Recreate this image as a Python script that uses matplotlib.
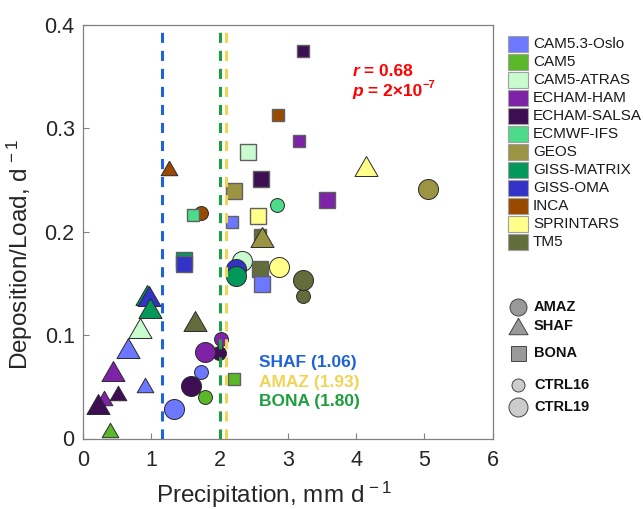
import matplotlib
matplotlib.use("Agg")
import matplotlib.pyplot as plt
from matplotlib.path import Path
from matplotlib.patches import Rectangle

plt.rcParams['font.family'] = ['Liberation Sans', 'DejaVu Sans']
plt.rcParams['mathtext.fontset'] = 'custom'
plt.rcParams['mathtext.rm'] = 'Liberation Sans'
plt.rcParams['mathtext.it'] = 'Liberation Sans:italic'
plt.rcParams['mathtext.bf'] = 'Liberation Sans:bold'

# ---------------- data ----------------
models = ["CAM5.3-Oslo", "CAM5", "CAM5-ATRAS", "ECHAM-HAM", "ECHAM-SALSA", "ECMWF-IFS",
          "GEOS", "GISS-MATRIX", "GISS-OMA", "INCA", "SPRINTARS", "TM5"]
model_colors = ["#6B78FF", "#5BB82A", "#C8FCCF", "#7E22A8", "#3D0E52", "#4CDB8A",
                "#9A9443", "#03985A", "#3333C8", "#9A4A00", "#FFFF8A", "#636D3C"]

# points (drawing order)
pt_model = ["ECHAM-SALSA", "INCA", "ECHAM-HAM", "CAM5-ATRAS", "INCA", "SPRINTARS",
            "ECHAM-SALSA", "GEOS", "GEOS", "ECHAM-HAM", "ECMWF-IFS", "INCA",
            "ECMWF-IFS", "SPRINTARS", "CAM5.3-Oslo", "TM5", "GEOS", "GISS-MATRIX",
            "GISS-OMA", "CAM5-ATRAS", "GISS-OMA", "GISS-MATRIX", "SPRINTARS", "TM5",
            "CAM5.3-Oslo", "TM5", "TM5", "GISS-MATRIX", "GISS-OMA", "GISS-MATRIX",
            "CAM5-ATRAS", "TM5", "CAM5.3-Oslo", "ECHAM-SALSA", "ECHAM-HAM", "ECHAM-HAM",
            "ECHAM-HAM", "CAM5.3-Oslo", "CAM5.3-Oslo", "CAM5", "ECHAM-SALSA", "CAM5",
            "ECHAM-SALSA", "ECHAM-HAM", "ECHAM-SALSA", "CAM5.3-Oslo", "CAM5"]
pt_region = ["BONA", "BONA", "BONA", "BONA", "SHAF", "SHAF",
             "BONA", "AMAZ", "BONA", "BONA", "AMAZ", "AMAZ",
             "BONA", "BONA", "BONA", "BONA", "SHAF", "BONA",
             "BONA", "AMAZ", "AMAZ", "AMAZ", "AMAZ", "BONA",
             "BONA", "AMAZ", "AMAZ", "SHAF", "SHAF", "SHAF",
             "SHAF", "SHAF", "SHAF", "AMAZ", "AMAZ", "AMAZ",
             "SHAF", "AMAZ", "SHAF", "BONA", "AMAZ", "AMAZ",
             "SHAF", "SHAF", "SHAF", "AMAZ", "SHAF"]
pt_exp = ["CTRL16", "CTRL16", "CTRL16", "CTRL19", "CTRL16", "CTRL19",
          "CTRL19", "CTRL19", "CTRL19", "CTRL19", "CTRL16", "CTRL16",
          "CTRL16", "CTRL19", "CTRL16", "CTRL16", "CTRL19", "CTRL19",
          "CTRL19", "CTRL19", "CTRL19", "CTRL19", "CTRL19", "CTRL19",
          "CTRL19", "CTRL16", "CTRL19", "CTRL19", "CTRL19", "CTRL19",
          "CTRL19", "CTRL19", "CTRL19", "CTRL16", "CTRL19", "CTRL16",
          "CTRL19", "CTRL16", "CTRL16", "CTRL16", "CTRL19", "CTRL16",
          "CTRL16", "CTRL16", "CTRL19", "CTRL19", "CTRL16"]
pt_x = [3.22, 2.855, 3.17, 2.416, 1.264, 4.14,
        2.61, 5.05, 2.206, 3.568, 2.84, 1.728,
        1.61, 2.567, 2.177, 2.59, 2.62, 1.476,
        1.476, 2.33, 2.235, 2.235, 2.874, 2.596,
        2.616, 3.226, 3.226, 0.935, 0.971, 0.981,
        0.835, 1.64, 0.659, 1.996, 1.79, 2.016,
        0.434, 1.733, 0.908, 2.206, 1.577, 1.781,
        0.512, 0.307, 0.224, 1.337, 0.395]
pt_y = [0.375, 0.313, 0.288, 0.277, 0.2615, 0.264,
        0.251, 0.2418, 0.239, 0.231, 0.2258, 0.218,
        0.2164, 0.2155, 0.209, 0.197, 0.195, 0.1725,
        0.1686, 0.1713, 0.164, 0.1575, 0.1655, 0.1636,
        0.1495, 0.138, 0.1533, 0.1385, 0.1379, 0.126,
        0.107, 0.1133, 0.0876, 0.0828, 0.084, 0.0963,
        0.065, 0.0644, 0.052, 0.0577, 0.0505, 0.0403,
        0.0442, 0.0393, 0.0338, 0.0287, 0.0087]

# regional mean precipitation lines
region_names = ["SHAF", "AMAZ", "BONA"]
region_means = [1.06, 1.93, 1.80]
region_line_x = [1.16, 2.094, 2.011]
region_colors = ["#1E63D8", "#F0D458", "#1E9E3C"]

r_value = 0.68
p_mant = "2×10"
p_exp = "-7"

# ---------------- styling ----------------
tri = Path([(-1, -0.866), (1, -0.866), (0, 0.866), (-1, -0.866)],
           [Path.MOVETO, Path.LINETO, Path.LINETO, Path.CLOSEPOLY])
region_marker = {"AMAZ": "o", "SHAF": tri, "BONA": "s"}
size_pt = {("AMAZ", "CTRL16"): 10.0, ("AMAZ", "CTRL19"): 14.4,
           ("SHAF", "CTRL16"): 12.0, ("SHAF", "CTRL19"): 16.6,
           ("BONA", "CTRL16"): 9.1, ("BONA", "CTRL19"): 11.2}
cmap = dict(zip(models, model_colors))

fig = plt.figure(figsize=(6.43, 5.09), dpi=100)
W, H = 643, 509
ax = fig.add_axes([83 / W, 1 - 438.5 / H, (492.7 - 83) / W, (438.5 - 25) / H])

for i in range(len(pt_x)):
    reg = pt_region[i]
    ms = size_pt[(reg, pt_exp[i])]
    if reg == "BONA":
        ec, lw = "#606060", 1.0
    else:
        ec, lw = "#2A2A2A", 0.7
    ax.plot(pt_x[i], pt_y[i], linestyle="none", marker=region_marker[reg],
            markersize=ms, markerfacecolor=cmap[pt_model[i]],
            markeredgecolor=ec, markeredgewidth=lw, zorder=3 + i * 0.01)

for xv, c in zip(region_line_x, region_colors):
    ax.axvline(xv, color=c, lw=2.2, linestyle=(0, (3.3, 2.6)), zorder=5)

# correlation text
t_r = ax.text(3.95, 0.355, "r", color="red", fontsize=12.5, fontweight="bold",
              fontstyle="italic", ha="left", va="center", zorder=6)
ax.annotate(" = %.2f" % r_value, xy=(1, 0.5), xycoords=t_r, color="red",
            fontsize=12.5, fontweight="bold", ha="left", va="center", zorder=6)
t_p = ax.text(3.95, 0.3355, "p", color="red", fontsize=12.5, fontweight="bold",
              fontstyle="italic", ha="left", va="center", zorder=6)
t_p2 = ax.annotate(" = " + p_mant, xy=(1, 0.5), xycoords=t_p, color="red",
                   fontsize=12.5, fontweight="bold", ha="left", va="center", zorder=6)
ax.annotate(p_exp.replace("-", "\u2212"), xy=(1, 0.62), xycoords=t_p2, color="red",
            fontsize=8, fontweight="bold", ha="left", va="bottom", zorder=6)

label_y = [0.0731, 0.0544, 0.036]
for name, mean, c, yv in zip(region_names, region_means, region_colors, label_y):
    ax.text(2.577, yv, "%s (%.2f)" % (name, mean), color=c, fontsize=12.5,
            fontweight="bold", ha="left", va="center", zorder=6)

ax.set_xlim(0, 6)
ax.set_ylim(0, 0.4)
ax.set_xticks([0, 1, 2, 3, 4, 5, 6])
ax.set_xticklabels(["0", "1", "2", "3", "4", "5", "6"])
ax.set_yticks([0, 0.1, 0.2, 0.3, 0.4])
ax.set_yticklabels(["0", "0.1", "0.2", "0.3", "0.4"])
for s in ax.spines.values():
    s.set_color("#808080")
    s.set_linewidth(0.9)
ax.tick_params(direction="in", length=4, width=0.8, color="#808080",
               labelsize=15.5, labelcolor="#262626")
ax.tick_params(axis="x", pad=8)
ax.tick_params(axis="y", pad=6)
ax.set_xlabel("Precipitation, mm d$^{\\,-1}$", fontsize=17.5, color="#262626")
ax.set_ylabel("Deposition/Load, d$^{\\,-1}$", fontsize=17.5, color="#262626")
ax.xaxis.set_label_coords(0.467, -0.100)
ax.yaxis.set_label_coords(-0.117, 0.446)

# ---------------- legends (pixel-space overlay) ----------------
lax = fig.add_axes([0, 0, 1, 1], zorder=10)
lax.set_xlim(0, W)
lax.set_ylim(H, 0)
lax.axis("off")
px = 72 / 100.0
for i, (m, c) in enumerate(zip(models, model_colors)):
    yc = 44 + 17.97 * i
    lax.add_patch(Rectangle((508, yc - 8), 20, 16, facecolor=c, edgecolor="#A0A0A0", lw=0.8))
    lax.text(533, yc, m, fontsize=11, ha="left", va="center", color="#1A1A1A")

shape_items = [("AMAZ", "o", 17, "#999999", 307), ("SHAF", tri, 19, "#999999", 326),
               ("BONA", "s", 15, "#999999", 353), ("CTRL16", "o", 13, "#CCCCCC", 385),
               ("CTRL19", "o", 19, "#CCCCCC", 407)]
for name, mk, d, fc, yc in shape_items:
    lax.plot(518, yc, marker=mk, markersize=d * px, markerfacecolor=fc,
             markeredgecolor="#444444", markeredgewidth=0.7, linestyle="none")
    lax.text(534, yc, name, fontsize=10.5, fontweight="bold", ha="left", va="center",
             color="#111111")

fig.savefig("out.png", dpi=100)
